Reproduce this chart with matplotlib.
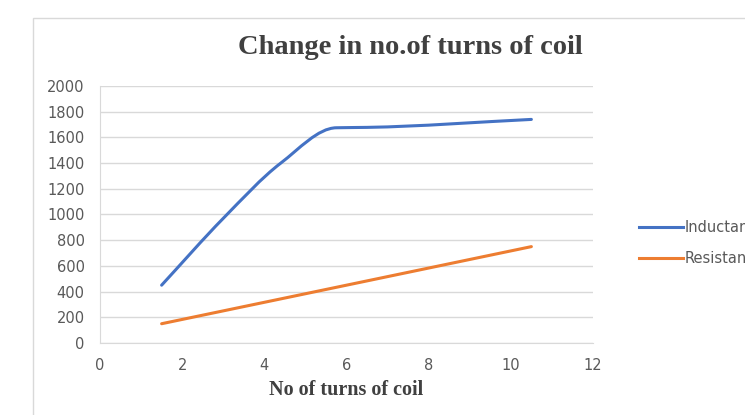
import numpy as np
import matplotlib.pyplot as plt
from matplotlib.path import Path
from matplotlib.patches import PathPatch, Rectangle
from matplotlib.lines import Line2D

turns_ind = [1.5, 3.0, 4.4, 5.75, 6.5, 10.5]
inductance = [450, 970, 1400, 1675, 1678, 1740]
turns_res = [1.5, 10.5]
resistance = [150, 750]

blue = '#4472C4'
orange = '#ED7D31'
grey_txt = '#595959'


def smooth_path(x, y):
    # cubic bezier through the points with monotone (no overshoot) tangents
    x = np.asarray(x, float)
    y = np.asarray(y, float)
    n = len(x)
    h = np.diff(x)
    d = np.diff(y) / h
    m = np.zeros(n)
    m[0], m[-1] = d[0], d[-1]
    for i in range(1, n - 1):
        if d[i - 1] * d[i] > 0:
            w1 = 2 * h[i] + h[i - 1]
            w2 = h[i] + 2 * h[i - 1]
            m[i] = (w1 + w2) / (w1 / d[i - 1] + w2 / d[i])
    verts = [(x[0], y[0])]
    codes = [Path.MOVETO]
    for i in range(n - 1):
        k = h[i] / 3
        verts += [(x[i] + k, y[i] + m[i] * k),
                  (x[i + 1] - k, y[i + 1] - m[i + 1] * k),
                  (x[i + 1], y[i + 1])]
        codes += [Path.CURVE4] * 3
    return Path(verts, codes)


fig = plt.figure(figsize=(7.45, 4.15), dpi=100)
fig.patches.append(Rectangle((33 / 745, -0.1), 1.0, 1 - 18 / 415 + 0.1,
                             transform=fig.transFigure, fill=False,
                             edgecolor='#d9d9d9', lw=1))

ax = fig.add_axes([100 / 745, 1 - 343 / 415, 493 / 745, 257 / 415])
ax.set_xlim(0, 12)
ax.set_ylim(0, 2000)
ax.set_xticks(range(0, 13, 2))
ax.set_yticks(range(0, 2001, 200))
ax.grid(axis='y', color='#d9d9d9', lw=1)
ax.set_axisbelow(True)
for s in ['top', 'right']:
    ax.spines[s].set_visible(False)
for s in ['left', 'bottom']:
    ax.spines[s].set_color('#d9d9d9')
ax.tick_params(length=0, colors=grey_txt, labelsize=10.5)
ax.tick_params(axis='y', pad=11)
ax.tick_params(axis='x', pad=11)

ax.add_patch(PathPatch(smooth_path(turns_ind, inductance), fill=False,
                       edgecolor=blue, lw=2.2, capstyle='round'))
ax.add_patch(PathPatch(smooth_path(turns_res, resistance), fill=False,
                       edgecolor=orange, lw=2.2, capstyle='round'))

fig.text(410 / 745, 1 - 47 / 415, 'Change in no.of turns of coil',
         ha='center', va='center', family='Liberation Serif',
         weight='bold', fontsize=20.5, color='#404040')
ax.set_xlabel('No of turns of coil', family='Liberation Serif',
              weight='bold', fontsize=14.5, color='#404040', labelpad=5)

handles = [Line2D([], [], color=blue, lw=2.2), Line2D([], [], color=orange, lw=2.2)]
fig.legend(handles, ['Inductance', 'Resistance'], loc='center left',
           bbox_to_anchor=(626 / 745, 1 - 243 / 415), frameon=False,
           handlelength=3.0, handletextpad=0.1, labelspacing=1.1,
           prop={'size': 10.5}, labelcolor=grey_txt)

fig.savefig('out.png', dpi=100)
